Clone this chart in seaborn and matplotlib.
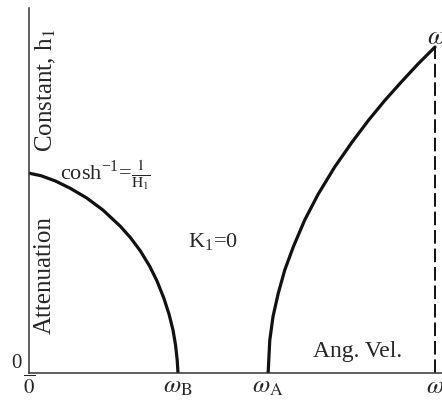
import numpy as np
import pandas as pd
import matplotlib
matplotlib.use("Agg")
import matplotlib.pyplot as plt
import seaborn as sns

# curve below the cutoff (attenuation falling to zero at w_B)
low_x = [0.0, 0.03, 0.065, 0.101, 0.142, 0.182, 0.225, 0.250, 0.274, 0.297, 0.315, 0.332,
         0.345, 0.355, 0.361, 0.365, 0.367]
low_y = [0.613, 0.605, 0.589, 0.567, 0.537, 0.500, 0.450, 0.415, 0.375, 0.328, 0.283, 0.230,
         0.180, 0.130, 0.085, 0.040, 0.0]

# curve above w_A rising to the top at w
high_x = [0.589, 0.593, 0.601, 0.614, 0.630, 0.651, 0.679, 0.712, 0.753, 0.795, 0.836, 0.877,
          0.918, 0.959, 1.0]
high_y = [0.0, 0.100, 0.173, 0.245, 0.316, 0.387, 0.469, 0.548, 0.632, 0.707, 0.775, 0.837,
          0.894, 0.949, 1.0]

x_tick_labels = [r"$\overline{0}$", r"$\omega_{\mathrm{B}}$", r"$\omega_{\mathrm{A}}$", r"$\omega$"]

sns.set_style("ticks")
plt.rcParams['font.family'] = ['Liberation Serif', 'DejaVu Serif']
plt.rcParams['mathtext.fontset'] = 'stix'

fig = plt.figure(figsize=(4.42, 4.03), dpi=100)
ax = fig.add_axes([29 / 442, 30 / 403, 413 / 442, 365 / 403])

df_low = pd.DataFrame({"x": low_x, "y": low_y})
df_high = pd.DataFrame({"x": high_x, "y": high_y})
sns.lineplot(data=df_low, x="x", y="y", ax=ax, color="#111111", linewidth=2.3, sort=False)
sns.lineplot(data=df_high, x="x", y="y", ax=ax, color="#111111", linewidth=2.3, sort=False)

# dashed vertical at the upper limit
ax.plot([high_x[-1], high_x[-1]], [0, high_y[-1]], color="#111111", linewidth=1.4,
        linestyle=(0, (7, 2.5)))

ax.set_xlim(0, 413 / 406)
ax.set_ylim(0, 365 / 326)

sns.despine(ax=ax)
ax.spines['left'].set_linewidth(1.1)
ax.spines['bottom'].set_linewidth(1.1)
ax.spines['left'].set_color("#333333")
ax.spines['bottom'].set_color("#333333")

ax.set_xticks([0, low_x[-1], high_x[0], high_x[-1]])
ax.set_xticklabels(x_tick_labels, fontsize=18)
ax.set_yticks([0])
ax.set_yticklabels(["0"], fontsize=15)
ax.tick_params(axis='both', length=0)
ax.tick_params(axis='x', pad=2)
ax.tick_params(axis='y', pad=5)
for lbl in ax.get_yticklabels():
    lbl.set_verticalalignment('bottom')
ax.get_xticklabels()[0].set_fontsize(15)
ax.set_xlabel("")
ax.set_ylabel("")

ax.text(0.041, 0.775, "Constant, h$_{1}$", transform=ax.transAxes, rotation=90,
        ha="center", va="center", fontsize=18)
ax.text(0.039, 0.268, "Attenuation", transform=ax.transAxes, rotation=90,
        ha="center", va="center", fontsize=18)
ax.text(0.075, 0.542, r"cosh$^{\mathregular{-1}}$=$\frac{1}{\mathrm{H}_1}$", transform=ax.transAxes,
        ha="left", va="center", fontsize=16)
ax.text(0.446, 0.359, r"K$_{\mathregular{1}}$=0", transform=ax.transAxes,
        ha="center", va="center", fontsize=16)
ax.text(0.688, 0.058, "Ang. Vel.", transform=ax.transAxes,
        ha="left", va="center", fontsize=17)
ax.text(0.988, 0.918, r"$\omega$", transform=ax.transAxes,
        ha="center", va="center", fontsize=19, clip_on=False)

fig.savefig("out.png", dpi=100)
